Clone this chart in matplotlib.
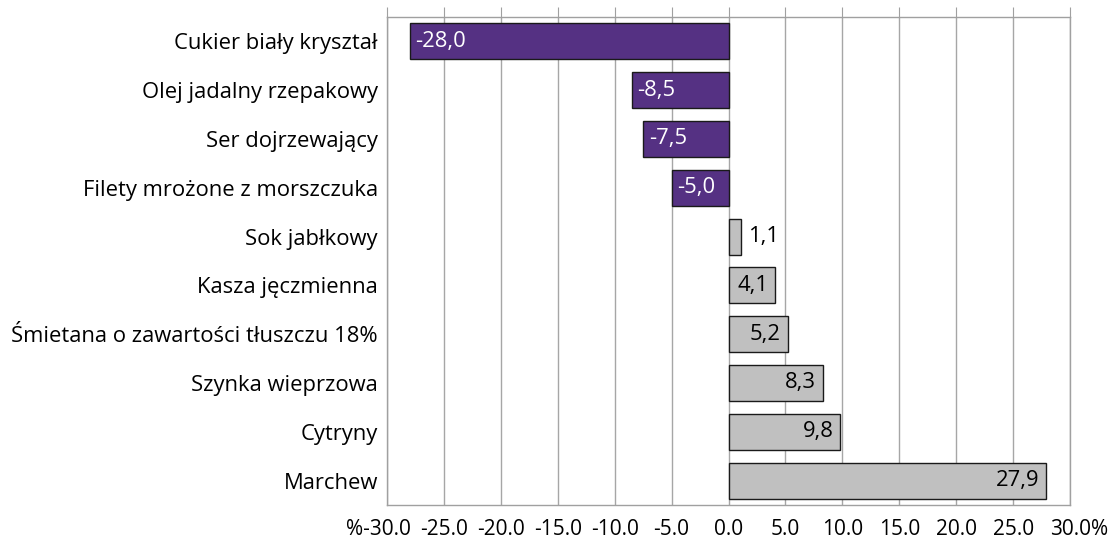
import matplotlib
matplotlib.use("Agg")
import matplotlib.pyplot as plt
from matplotlib.transforms import ScaledTranslation

categories = [
    "Cukier biały kryształ",
    "Olej jadalny rzepakowy",
    "Ser dojrzewający",
    "Filety mrożone z morszczuka",
    "Sok jabłkowy",
    "Kasza jęczmienna",
    "Śmietana o zawartości tłuszczu 18%",
    "Szynka wieprzowa",
    "Cytryny",
    "Marchew",
]
values = [-28.0, -8.5, -7.5, -5.0, 1.1, 4.1, 5.2, 8.3, 9.8, 27.9]
xticks = [-30, -25, -20, -15, -10, -5, 0, 5, 10, 15, 20, 25, 30]
xticklabels = ["%-30.0", "-25.0", "-20.0", "-15.0", "-10.0", "-5.0", "0.0",
               "5.0", "10.0", "15.0", "20.0", "25.0", "30.0%"]

plt.rcParams['font.family'] = ['Open Sans', 'DejaVu Sans']
purple = "#553183"
grey = "#c0c0c0"
fs = 15.8

fig = plt.figure(figsize=(11.15, 5.42), dpi=100)
ax = fig.add_axes([0.3471, 0.0683, 0.6126, 0.9004])

ypos = list(range(len(categories)))
colors = [purple if v < 0 else grey for v in values]
ax.barh(ypos, values, height=0.74, color=colors, edgecolor="#1a1a1a",
        linewidth=1, zorder=3)

for y, v in zip(ypos, values):
    label = f"{v:.1f}".replace(".", ",")
    if v < 0:
        ax.text(v + 0.5, y, label, ha="left", va="center", color="white",
                fontsize=fs, zorder=4)
    elif v < 2:
        ax.text(v + 0.6, y, label, ha="left", va="center", color="black",
                fontsize=fs, zorder=4)
    else:
        ax.text(v - 0.6, y, label, ha="right", va="center", color="black",
                fontsize=fs, zorder=4)

ax.set_xlim(-30, 30)
ax.set_ylim(9.5, -0.5)
ax.set_yticks(ypos)
ax.set_yticklabels(categories, fontsize=fs)
ax.set_xticks(xticks)
ax.set_xticklabels(xticklabels, fontsize=15)
ax.tick_params(axis="y", length=0, pad=6.5)
ax.tick_params(axis="x", top=True, bottom=False, labeltop=False,
               labelbottom=True, direction="out", length=7, color="#a0a0a0",
               pad=3)
# the % sign hangs outside the first and last label
tl = ax.get_xticklabels()
tl[0].set_transform(tl[0].get_transform() + ScaledTranslation(-0.09, 0, fig.dpi_scale_trans))
tl[-1].set_transform(tl[-1].get_transform() + ScaledTranslation(0.09, 0, fig.dpi_scale_trans))
ax.grid(axis="x", color="#a6a6a6", linewidth=1, zorder=0)
for s in ax.spines.values():
    s.set_color("#a0a0a0")
    s.set_linewidth(1)

fig.savefig("out.png", dpi=100)
